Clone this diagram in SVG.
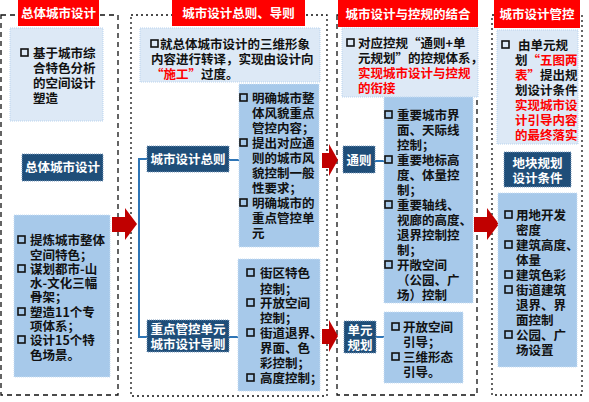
<svg xmlns="http://www.w3.org/2000/svg" width="589" height="402" viewBox="0 0 589 402">
<style>
text{font-family:"Noto Sans CJK SC","Noto Sans",sans-serif;font-weight:bold;font-size:12.5px;fill:#111}
.w{fill:#fff;text-anchor:middle}
.r{fill:#ff0000}
.title{fill:#ff0000}
.pale{fill:#dde9f6;stroke:#b9d3ee;stroke-width:1;stroke-dasharray:1,1}
.mid{fill:#a7c9ea;stroke:#c9def3;stroke-width:1;stroke-dasharray:1,1}
.lab{fill:#1f4e79;stroke:#7f9cbd;stroke-width:1;stroke-dasharray:1,1}
.dash{fill:none;stroke:#111;stroke-width:1.3;stroke-dasharray:5,4}
.dot{fill:none;stroke:#111;stroke-width:1.3;stroke-dasharray:2,3}
.con{fill:none;stroke:#2e75b6;stroke-width:2}
.arr{fill:#c00000}
</style>
<defs>
<rect id="cb" width="7" height="7" fill="none" stroke="#111" stroke-width="1.6"/>
</defs>
<rect width="589" height="402" fill="#fff"/>
<g id="frames">
<rect class="dash" x="1" y="15" width="117" height="380"/>
<rect class="dot" x="131" y="15" width="196" height="381"/>
<rect class="dash" x="337" y="15" width="140" height="380"/>
<rect class="dot" x="492" y="15" width="90" height="380"/>
</g>
<g id="connectors">
<path class="con" d="M147,159 H139 V337 H147"/>
<path class="con" d="M229,160 H240"/>
<path class="con" d="M229,337 H238"/>
<path class="con" d="M375,161 H385"/>
<path class="con" d="M376,337 H384"/>
<path class="arr" d="M112,217 H125 V208 L137,224 L125,240 V232 H112 Z"/>
<path class="arr" d="M322,153 H329 V144 L338,160 L329,176 V168 H322 Z"/>
<path class="arr" d="M322,329 H329 V320 L338,336 L329,352 V344 H322 Z"/>
<path class="arr" d="M474,217 H487 V208 L499,224 L487,240 V232 H474 Z"/>
</g>
<g id="p1-title">
<rect class="title" x="18" y="0" width="81" height="26"/>
<text class="w" x="58.5" y="18">总体城市设计</text>
</g>
<g id="p1-intro">
<rect class="pale" x="10" y="28" width="93" height="93"/>
<use href="#cb" x="21" y="49"/>
<text><tspan x="33" y="58">基于城市综</tspan><tspan x="33" y="73">合特色分析</tspan><tspan x="33" y="88">的空间设计</tspan><tspan x="33" y="103">塑造</tspan></text>
</g>
<g id="p1-label">
<rect class="lab" x="22" y="154" width="81" height="27"/>
<text class="w" x="62.5" y="172">总体城市设计</text>
</g>
<g id="p1-list">
<rect class="mid" x="14" y="215" width="96" height="162"/>
<use href="#cb" x="18" y="236"/>
<use href="#cb" x="18" y="265"/>
<use href="#cb" x="18" y="308"/>
<use href="#cb" x="18" y="336"/>
<text><tspan x="30" y="245">提炼城市整体</tspan><tspan x="30" y="260">空间特色；</tspan><tspan x="30" y="274">谋划都市-山</tspan><tspan x="30" y="288">水-文化三幅</tspan><tspan x="30" y="302">骨架；</tspan><tspan x="30" y="317">塑造11个专</tspan><tspan x="30" y="331">项体系；</tspan><tspan x="30" y="345">设计15个特</tspan><tspan x="30" y="360">色场景。</tspan></text>
</g>
<g id="p2-title">
<rect class="title" x="172" y="0" width="133" height="26"/>
<text class="w" x="238.5" y="18">城市设计总则、导则</text>
</g>
<g id="p2-intro">
<rect class="pale" x="140" y="28" width="180" height="54"/>
<use href="#cb" x="151" y="40"/>
<text><tspan x="160" y="49">就总体城市设计的三维形象</tspan><tspan x="151" y="64">内容进行转译，实现由设计向</tspan><tspan x="151" y="79" class="r">“施工”</tspan><tspan>过度。</tspan></text>
</g>
<g id="p2-general">
<rect class="lab" x="147" y="146" width="82" height="26"/>
<text class="w" x="188" y="164">城市设计总则</text>
</g>
<g id="p2-general-list">
<rect class="mid" x="239" y="84" width="80" height="163"/>
<use href="#cb" x="240" y="94"/>
<use href="#cb" x="240" y="139"/>
<use href="#cb" x="240" y="199"/>
<text><tspan x="252" y="103">明确城市整</tspan><tspan x="252" y="118">体风貌重点</tspan><tspan x="252" y="133">管控内容；</tspan><tspan x="252" y="148">提出对应通</tspan><tspan x="252" y="163">则的城市风</tspan><tspan x="252" y="178">貌控制一般</tspan><tspan x="252" y="193">性要求；</tspan><tspan x="252" y="208">明确城市的</tspan><tspan x="252" y="223">重点管控单</tspan><tspan x="252" y="238">元</tspan></text>
</g>
<g id="p2-guide">
<rect class="lab" x="147" y="320" width="82" height="32"/>
<text class="w"><tspan x="188" y="334">重点管控单元</tspan><tspan x="188" y="349">城市设计导则</tspan></text>
</g>
<g id="p2-guide-list">
<rect class="mid" x="238" y="259" width="82" height="132"/>
<use href="#cb" x="247" y="269"/>
<use href="#cb" x="247" y="299"/>
<use href="#cb" x="247" y="329"/>
<use href="#cb" x="247" y="374"/>
<text><tspan x="260" y="278">街区特色</tspan><tspan x="260" y="294">控制；</tspan><tspan x="260" y="308">开放空间</tspan><tspan x="260" y="323">控制；</tspan><tspan x="260" y="338">街道退界、</tspan><tspan x="260" y="353">界面、色</tspan><tspan x="260" y="368">彩控制；</tspan><tspan x="260" y="383">高度控制；</tspan></text>
</g>
<g id="p3-title">
<rect class="title" x="338" y="0" width="140" height="27"/>
<text class="w" x="408" y="19">城市设计与控规的结合</text>
</g>
<g id="p3-intro">
<rect class="pale" x="342" y="28" width="136" height="69"/>
<use href="#cb" x="347" y="39"/>
<text><tspan x="358" y="48">对应控规“通则+单</tspan><tspan x="358" y="63">元规划”的控规体系，</tspan><tspan class="r" x="358" y="78">实现城市设计与控规</tspan><tspan class="r" x="358" y="93">的衔接</tspan></text>
</g>
<g id="p3-general">
<rect class="lab" x="343" y="146" width="32" height="27"/>
<text class="w" x="359" y="165">通则</text>
</g>
<g id="p3-general-list">
<rect class="mid" x="384" y="97" width="89" height="206"/>
<use href="#cb" x="385" y="111"/>
<use href="#cb" x="385" y="156"/>
<use href="#cb" x="385" y="201"/>
<use href="#cb" x="385" y="261"/>
<text><tspan x="397" y="120">重要城市界</tspan><tspan x="397" y="135">面、天际线</tspan><tspan x="397" y="150">控制；</tspan><tspan x="397" y="165">重要地标高</tspan><tspan x="397" y="180">度、体量控</tspan><tspan x="397" y="195">制；</tspan><tspan x="397" y="210">重要轴线、</tspan><tspan x="397" y="225">视廊的高度、</tspan><tspan x="397" y="240">退界控制控</tspan><tspan x="397" y="255">制；</tspan><tspan x="397" y="270">开敞空间</tspan><tspan x="397" y="285">（公园、广</tspan><tspan x="397" y="300">场）控制</tspan></text>
</g>
<g id="p3-unit">
<rect class="lab" x="344" y="321" width="32" height="32"/>
<text class="w"><tspan x="360" y="335">单元</tspan><tspan x="360" y="350">规划</tspan></text>
</g>
<g id="p3-unit-list">
<rect class="mid" x="384" y="312" width="79" height="71"/>
<use href="#cb" x="392" y="323"/>
<use href="#cb" x="392" y="353"/>
<text><tspan x="403" y="332">开放空间</tspan><tspan x="403" y="347">引导；</tspan><tspan x="403" y="362">三维形态</tspan><tspan x="403" y="377">引导。</tspan></text>
</g>
<g id="p4-title">
<rect class="title" x="494" y="0" width="86" height="28"/>
<text class="w" x="537" y="19">城市设计管控</text>
</g>
<g id="p4-intro">
<rect class="pale" x="497" y="30" width="81" height="114"/>
<use href="#cb" x="502" y="41"/>
<text><tspan x="518" y="50">由单元规</tspan><tspan x="515" y="65">划</tspan><tspan class="r">“五图两</tspan><tspan x="515" y="80" class="r">表”</tspan><tspan>提出规</tspan><tspan x="515" y="95">划设计条件</tspan><tspan class="r" x="515" y="110">实现城市设</tspan><tspan class="r" x="515" y="125">计引导内容</tspan><tspan class="r" x="515" y="140">的最终落实</tspan></text>
</g>
<g id="p4-label">
<rect class="lab" x="504" y="152" width="67" height="35"/>
<text class="w"><tspan x="537.5" y="168">地块规划</tspan><tspan x="537.5" y="183">设计条件</tspan></text>
</g>
<g id="p4-list">
<rect class="mid" x="498" y="193" width="79" height="174"/>
<use href="#cb" x="505" y="211"/>
<use href="#cb" x="505" y="241"/>
<use href="#cb" x="505" y="271"/>
<use href="#cb" x="505" y="286"/>
<use href="#cb" x="505" y="331"/>
<text><tspan x="516" y="220">用地开发</tspan><tspan x="516" y="235">密度</tspan><tspan x="516" y="250">建筑高度、</tspan><tspan x="516" y="265">体量</tspan><tspan x="516" y="280">建筑色彩</tspan><tspan x="516" y="295">街道建筑</tspan><tspan x="516" y="310">退界、界</tspan><tspan x="516" y="325">面控制</tspan><tspan x="516" y="340">公园、广</tspan><tspan x="516" y="355">场设置</tspan></text>
</g>
</svg>
